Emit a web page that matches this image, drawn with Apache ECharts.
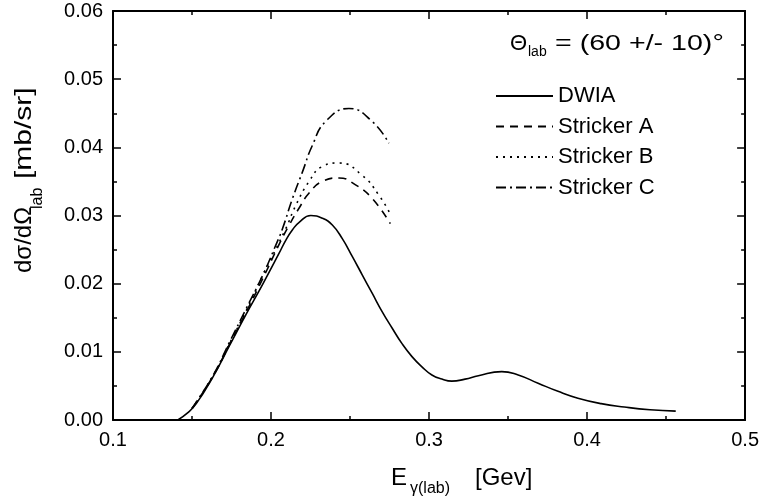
<!DOCTYPE html>
<html>
<head>
<meta charset="utf-8">
<script src="https://cdn.jsdelivr.net/npm/echarts@6/dist/echarts.min.js"></script>
<style>
  html, body { margin: 0; padding: 0; background: #fff; }
  #chart { width: 762px; height: 502px; }
</style>
</head>
<body>
<div id="chart"></div>
<script>
// Photon energy (GeV) and cross section (mb/sr) for each calculation
const dwiaE = [0.141, 0.147, 0.1527, 0.1632, 0.1737, 0.1842, 0.1947, 0.2052, 0.2094, 0.2136, 0.2178, 0.2252, 0.2325, 0.2388, 0.2451, 0.2514, 0.2577, 0.264, 0.2703, 0.2766, 0.2829, 0.2892, 0.2955, 0.3018, 0.3081, 0.3144, 0.3228, 0.3312, 0.346, 0.3564, 0.369, 0.3816, 0.3942, 0.4089, 0.4236, 0.4398, 0.4561];
const dwiaV = [0.0000, 0.0010, 0.0024, 0.0063, 0.0109, 0.0155, 0.0199, 0.0245, 0.0264, 0.0279, 0.0290, 0.0300, 0.0296, 0.0286, 0.0266, 0.0240, 0.0213, 0.0186, 0.0159, 0.0135, 0.0112, 0.0093, 0.0078, 0.0066, 0.0060, 0.0057, 0.0060, 0.0065, 0.0071, 0.0066, 0.0054, 0.0042, 0.0032, 0.0024, 0.0019, 0.0015, 0.0013];

const strAE = [0.150, 0.1632, 0.1737, 0.1842, 0.1947, 0.2052, 0.2115, 0.2178, 0.2241, 0.2325, 0.243, 0.2535, 0.264, 0.2755];
const strAV = [0.0017, 0.0064, 0.0111, 0.0158, 0.0207, 0.0258, 0.0286, 0.0311, 0.0333, 0.0350, 0.0355, 0.0345, 0.0325, 0.0288];

const strBE = [0.150, 0.1632, 0.1737, 0.1842, 0.1947, 0.2094, 0.2157, 0.2241, 0.2325, 0.243, 0.2577, 0.2682, 0.2755];
const strBV = [0.0017, 0.0064, 0.0112, 0.0160, 0.0212, 0.0281, 0.0315, 0.0350, 0.0372, 0.0377, 0.0359, 0.0330, 0.0302];

const strCE = [0.150, 0.1632, 0.1737, 0.1842, 0.1947, 0.2031, 0.2073, 0.2136, 0.2199, 0.2262, 0.2346, 0.2493, 0.264, 0.2745];
const strCV = [0.0017, 0.0065, 0.0114, 0.0163, 0.0212, 0.0257, 0.0281, 0.0325, 0.0364, 0.0403, 0.0438, 0.0457, 0.0438, 0.0406];

const seriesNames = ['DWIA', 'Stricker A', 'Stricker B', 'Stricker C'];

// Axis ranges
const xMin = 0.1, xMax = 0.5, xStep = 0.1;
const yMin = 0, yMax = 0.06, yStep = 0.01;

const FONT = '"Liberation Sans", Arial, Helvetica, sans-serif';
const zip = (xs, ys) => xs.map((x, i) => [x, ys[i]]);

const tickStyle = { color: '#000', width: 1.5 };

function axisX(pos, labels) {
  return {
    type: 'value', position: pos, min: xMin, max: xMax, interval: xStep,
    axisLine: { show: true, onZero: false, lineStyle: { color: '#000', width: 2 } },
    axisTick: { show: true, inside: true, length: 8, lineStyle: tickStyle },
    minorTick: { show: true, splitNumber: 2, length: 4, lineStyle: tickStyle },
    splitLine: { show: false },
    axisLabel: {
      show: labels, color: '#000', fontSize: 20, fontFamily: FONT, margin: 10,
      formatter: v => v.toFixed(1)
    }
  };
}
function axisY(pos, labels) {
  return {
    type: 'value', position: pos, min: yMin, max: yMax, interval: yStep,
    axisLine: { show: true, onZero: false, lineStyle: { color: '#000', width: 2 } },
    axisTick: { show: true, inside: true, length: 8, lineStyle: tickStyle },
    minorTick: { show: true, splitNumber: 2, length: 4, lineStyle: tickStyle },
    splitLine: { show: false },
    axisLabel: {
      show: labels, color: '#000', fontSize: 20, fontFamily: FONT, margin: 10,
      formatter: v => v.toFixed(2)
    }
  };
}

function curve(name, xs, ys, dash) {
  return {
    name, type: 'line', data: zip(xs, ys), xAxisIndex: 0, yAxisIndex: 0,
    smooth: 0.5, symbol: 'none', silent: true,
    itemStyle: { color: '#000' },
    lineStyle: { color: '#000', width: 1.6, type: dash }
  };
}

function txt(x, y, text, size, extra) {
  return Object.assign({
    type: 'text', x, y,
    style: { text, font: size + 'px ' + FONT, fill: '#000', align: 'left', verticalAlign: 'middle' }
  }, extra || {});
}

const chart = echarts.init(document.getElementById('chart'), null, { renderer: 'canvas' });
chart.setOption({
  animation: false,
  backgroundColor: '#fff',
  grid: { left: 113, right: 14, top: 11, bottom: 82 },
  xAxis: [axisX('bottom', true), axisX('top', false)],
  yAxis: [axisY('left', true), axisY('right', false)],
  legend: {
    data: seriesNames, orient: 'vertical', left: 495, top: 85, padding: 0,
    itemWidth: 57, itemHeight: 21, itemGap: 8.5, selectedMode: false,
    itemStyle: { opacity: 0 },
    textStyle: { color: '#000', fontSize: 22, fontFamily: FONT, lineHeight: 21 }
  },
  series: [
    curve(seriesNames[0], dwiaE, dwiaV, 'solid'),
    curve(seriesNames[1], strAE, strAV, [8, 6]),
    curve(seriesNames[2], strBE, strBV, [2, 5]),
    curve(seriesNames[3], strCE, strCV, [10, 4, 2, 4])
  ],
  graphic: [
    // angle annotation
    txt(510, 44, 'Θ', 22),
    txt(528, 52, 'lab', 14),
    txt(555, 44, '= (60 +/- 10)°', 22, { scaleX: 1.3 }),
    // x axis title
    txt(391, 478, 'E', 24),
    txt(410, 489, 'γ(lab)', 16),
    txt(475, 478, '[Gev]', 24),
    // y axis title, read bottom to top
    txt(24, 273, 'dσ/dΩ', 24, { rotation: Math.PI / 2 }),
    txt(38, 209, 'lab', 16, { rotation: Math.PI / 2 }),
    txt(24, 179, '[mb/sr]', 24, { rotation: Math.PI / 2, scaleX: 1.25 })
  ]
});
</script>
</body>
</html>
